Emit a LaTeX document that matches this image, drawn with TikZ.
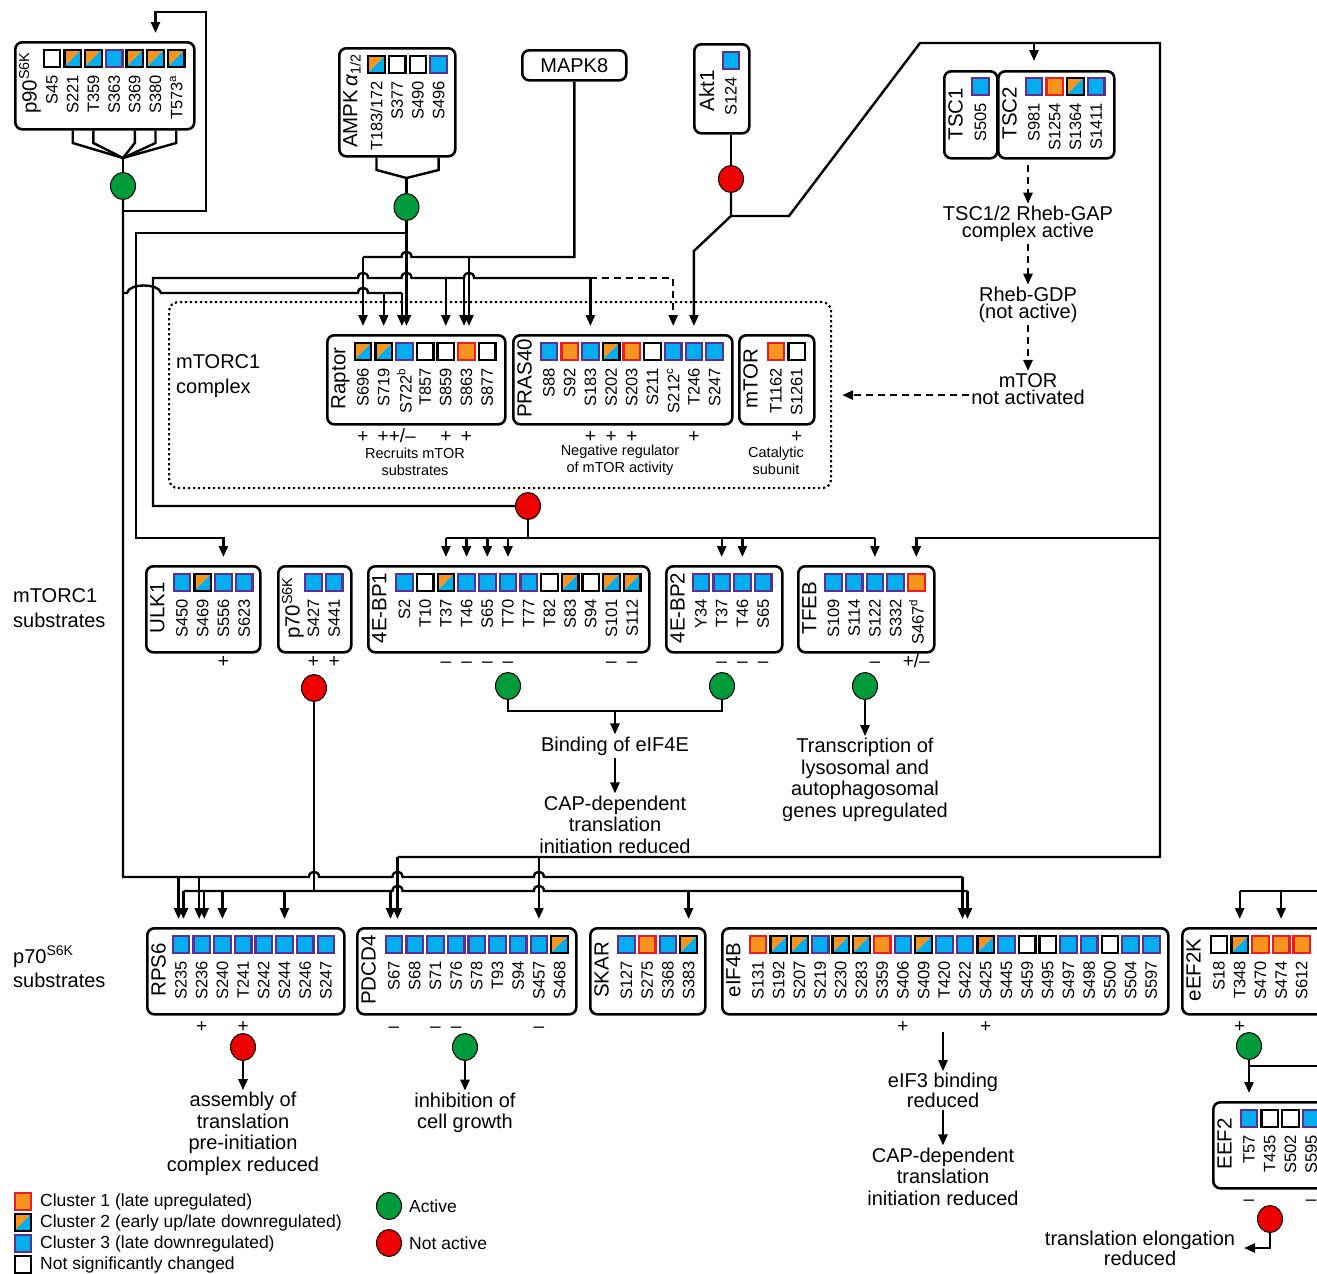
\documentclass[tikz,border=0pt]{standalone}
\usepackage{fontspec}
\setmainfont{Liberation Sans}
\usetikzlibrary{shapes.geometric,arrows.meta,calc}
\definecolor{corange}{RGB}{247,148,29}
\definecolor{cblue}{RGB}{0,174,239}
\definecolor{cpurple}{RGB}{96,45,145}
\definecolor{cred}{RGB}{237,28,36}
\definecolor{cgreen}{RGB}{0,155,58}
\definecolor{credc}{RGB}{236,0,0}
\newcommand{\Fsite}{\fontsize{16.5}{16.5}\selectfont}
\newcommand{\Fname}{\fontsize{20.5}{20.5}\selectfont}
\newcommand{\Flab}{\fontsize{20}{21.5}\selectfont}
\newcommand{\Ftight}{\fontsize{20}{17.5}\selectfont}
\newcommand{\Fleft}{\fontsize{20}{24.5}\selectfont}
\newcommand{\Fsmall}{\fontsize{14.5}{17}\selectfont}
\newcommand{\Fsign}{\fontsize{19}{19}\selectfont}
\newcommand{\Fleg}{\fontsize{17.5}{17.5}\selectfont}
\tikzset{
 conn/.style={draw=black, line width=2.4pt},
 arr/.style={conn, -{Triangle[length=11pt,width=9pt]}},
 darr/.style={arr, dash pattern=on 7pt off 5pt},
 pbox/.style={draw=black, line width=2.6pt, rounded corners=7pt, anchor=north west, inner sep=0pt},
 cplxbox/.style={draw=black, line width=2.2pt, dash pattern=on 2.2pt off 2.8pt, rounded corners=9pt, anchor=north west, inner sep=0pt},
 pname/.style={rotate=90, anchor=north, inner sep=0pt, font=\Fname},
 site/.style={rotate=90, anchor=east, inner sep=0pt, font=\Fsite},
 sqline/.style={line width=2.2pt},
 gcirc/.style={ellipse, draw=black, line width=1pt, fill=cgreen, minimum width=25pt, minimum height=27pt, inner sep=0pt},
 rcirc/.style={gcirc, fill=credc},
 lab/.style={font=\Flab, align=center, inner sep=2pt},
 tight/.style={font=\Ftight, align=center, inner sep=2pt},
 small/.style={font=\Fsmall, align=center, inner sep=0pt},
 sign/.style={font=\Fsign, inner sep=0pt, anchor=base},
 legtext/.style={font=\Fleg, anchor=west, inner sep=0pt},
 hop/.style 2 args={insert path={-- ({#1-5},#2) .. controls +(0,-7) and +(0,-7) .. ({#1+5},#2)}},
}
\newcommand{\sqr}[3]{%
 \ifcase#1\relax
  \draw[sqline, fill=white, draw=black] ({#2-8.3},#3) rectangle ++(16.6,16.6);
 \or
  \draw[sqline, fill=corange, draw=cred] ({#2-8.3},#3) rectangle ++(16.6,16.6);
 \or
  \fill[corange] ({#2-8.3},#3) -- ++(16.6,0) -- ++(-16.6,16.6) -- cycle;
  \fill[cblue] ({#2+8.3},#3) -- ++(0,16.6) -- ++(-16.6,0) -- cycle;
  \draw[sqline, draw=black] ({#2-8.3},#3) rectangle ++(16.6,16.6);
 \or
  \draw[sqline, fill=cblue, draw=cpurple] ({#2-8.3},#3) rectangle ++(16.6,16.6);
 \fi}
\newcommand{\sites}[4]{%
 \foreach \ty/\lb [count=\k] in {#4}{%
  \pgfmathsetmacro\sxc{#2+(\k-1)*20.7}
  \sqr{\ty}{\sxc}{#3}
  \node[site] (#1-l\k) at (\sxc,{#3+25}) {\lb};
  \coordinate (#1-\k) at (\sxc,{#3-17});
 }}
\begin{document}
\begin{tikzpicture}[x=1pt,y=-1pt]
\useasboundingbox (0,0) rectangle (1317,1274);
\fill[white] (0,0) rectangle (1317,1274);
\clip (0,0) rectangle (1317,1274);

% ---------------- top row ----------------
\node[pbox, minimum width=179pt, minimum height=87pt] (p90) at (14,41) {};
\node[pname] (p90-n) at (19,83) {p90\textsuperscript{S6K}};
\sites{p90}{52}{50}{0/S45,2/S221,2/T359,3/S363,2/S369,2/S380,2/T573\textsuperscript{a}}

\node[pbox, minimum width=116pt, minimum height=108pt] (ampk) at (338,47) {};
\node[pname] (ampk-n) at (343,101) {AMPK\,{\itshape α}\textsubscript{1/2}};
\sites{ampk}{376.5}{56}{2/{T183/172},0/S377,0/S490,3/S496}

\node[pbox, minimum width=104pt, minimum height=30pt, font=\fontsize{20}{20}\selectfont] (mapk) at (521,49) {MAPK8};

\node[pbox, minimum width=55pt, minimum height=89pt] (akt) at (693,43) {};
\node[pname] (akt-n) at (699,91) {Akt1};
\sites{akt}{731}{52}{3/S124}

\node[pbox, minimum width=53pt, minimum height=87pt] (tsc1) at (943,70) {};
\node[pname] (tsc1-n) at (948,114) {TSC1};
\sites{tsc1}{980.5}{78}{3/S505}
\node[pbox, minimum width=116pt, minimum height=87pt] (tsc2) at (997,70) {};
\node[pname] (tsc2-n) at (1002,113) {TSC2};
\sites{tsc2}{1034}{78}{3/S981,1/S1254,2/S1364,3/S1411}

\node[tight] (gap) at (1028,224) {TSC1/2 Rheb-GAP\\complex active};
\node[tight] (rheb) at (1028,305) {Rheb-GDP\\(not active)};
\node[tight] (mtorna) at (1028,389) {mTOR\\not activated};

% ---------------- mTORC1 complex ----------------
\node[cplxbox, minimum width=662pt, minimum height=186pt] (cplx) at (168,301) {};
\node[font=\Fleft, anchor=west, align=left, inner sep=0pt] (cplx-t) at (176,376) {mTORC1\\complex};

\node[pbox, minimum width=178pt, minimum height=89pt] (rap) at (326,334) {};
\node[pname] (rap-n) at (331,378.5) {Raptor};
\sites{rap}{363}{343}{2/S696,2/S719,3/S722\textsuperscript{b},0/T857,0/S859,1/S863,0/S877}

\node[pbox, minimum width=219pt, minimum height=89pt] (pras) at (512,334) {};
\node[pname] (pras-n) at (517,378.5) {PRAS40};
\sites{pras}{549}{343}{3/S88,1/S92,3/S183,2/S202,1/S203,0/S211,3/S212\textsuperscript{c},3/T246,3/S247}

\node[pbox, minimum width=75pt, minimum height=89pt] (mtor) at (738,334) {};
\node[pname] (mtor-n) at (743,378.5) {mTOR};
\sites{mtor}{776}{343}{1/T1162,0/S1261}

\node[small] (rap-d) at (415,462) {Recruits mTOR\\substrates};
\node[small] (pras-d) at (620,460.5) {Negative regulator\\of mTOR activity};
\node[small] (mtor-d) at (776,460.5) {Catalytic\\subunit};

\node[sign, anchor=base west] (sgR) at (377.5,442) {++/–};
\foreach \sx/\ss [count=\k] in {363/+,445.8/+,466.5/+,590.4/+,611.1/+,631.8/+,693.9/+,796.7/+}
  \node[sign] (sgA\k) at (\sx,442) {\ss};

% ---------------- mTORC1 substrates ----------------
\node[font=\Fleft, anchor=west, align=left, inner sep=0pt] (lsub1) at (13,608) {mTORC1\\substrates};

\node[pbox, minimum width=114pt, minimum height=86pt] (ulk) at (145,565) {};
\node[pname] (ulk-n) at (150,608) {ULK1};
\sites{ulk}{182}{574}{3/S450,2/S469,3/S556,3/S623}

\node[pbox, minimum width=73pt, minimum height=86pt] (p70) at (277,565) {};
\node[pname] (p70-n) at (282,608) {p70\textsuperscript{S6K}};
\sites{p70}{313.5}{574}{3/S427,3/S441}

\node[pbox, minimum width=281pt, minimum height=86pt] (ebp1) at (367,565) {};
\node[pname] (ebp1-n) at (372,608) {4E-BP1};
\sites{ebp1}{404.5}{574}{3/S2,0/T10,2/T37,3/T46,3/S65,3/T70,3/T77,0/T82,2/S83,0/S94,2/S101,2/S112}

\node[pbox, minimum width=116pt, minimum height=86pt] (ebp2) at (665,565) {};
\node[pname] (ebp2-n) at (670,608) {4E-BP2};
\sites{ebp2}{701}{574}{3/Y34,3/T37,3/T46,3/S65}

\node[pbox, minimum width=136pt, minimum height=86pt] (tfeb) at (797,565) {};
\node[pname] (tfeb-n) at (802,608) {TFEB};
\sites{tfeb}{833.5}{574}{3/S109,3/S114,3/S122,3/S332,1/S467\textsuperscript{d}}

\foreach \sx/\ss [count=\k] in {223.4/+,313.5/+,334.2/+,445.9/–,466.6/–,487.3/–,508/–,611.5/–,632.2/–,721.7/–,742.4/–,763.1/–,874.9/–,916.3/{+/–}}
  \node[sign] (sgB\k) at (\sx,667) {\ss};

% ---------------- circles ----------------
\node[gcirc] (c-p90) at (123,186) {};
\node[gcirc] (c-ampk) at (406.5,207) {};
\node[rcirc] (c-akt) at (731,179) {};
\node[rcirc] (c-mtorc) at (528,506) {};
\node[rcirc] (c-p70) at (314,688) {};
\node[gcirc] (c-ebp1) at (508,686) {};
\node[gcirc] (c-ebp2) at (722,686) {};
\node[gcirc] (c-tfeb) at (865,686) {};
\node[rcirc] (c-rps) at (243,1047) {};
\node[gcirc] (c-pdcd) at (465,1047) {};
\node[gcirc] (c-eef2k) at (1249,1046) {};
\node[rcirc] (c-eef2) at (1270,1219) {};

% ---------------- outcome texts ----------------
\node[lab] (bind) at (615,746) {Binding of eIF4E};
\node[lab] (cap1) at (615,824.5) {CAP-dependent\\translation\\initiation reduced};
\node[lab] (trans) at (865,780) {Transcription of\\lysosomal and\\autophagosomal\\genes upregulated};

% ---------------- p70 substrates ----------------
\node[font=\Fleft, anchor=west, align=left, inner sep=0pt] (lsub2) at (13,967) {p70\textsuperscript{S6K}\\substrates};

\node[pbox, minimum width=197pt, minimum height=86pt] (rps) at (146,927) {};
\node[pname] (rps-n) at (151,970) {RPS6};
\sites{rps}{181}{936}{3/S235,3/S236,3/S240,3/T241,3/S242,3/S244,3/S246,3/S247}

\node[pbox, minimum width=219pt, minimum height=86pt] (pdcd) at (356,927) {};
\node[pname] (pdcd-n) at (361,970) {PDCD4};
\sites{pdcd}{394}{936}{3/S67,3/S68,3/S71,3/S76,3/S78,3/T93,3/S94,3/S457,2/S468}

\node[pbox, minimum width=115pt, minimum height=86pt] (skar) at (589,927) {};
\node[pname] (skar-n) at (594,970) {SKAR};
\sites{skar}{626.5}{936}{3/S127,1/S275,3/S368,2/S383}

\node[pbox, minimum width=446pt, minimum height=86pt] (eif) at (721,927) {};
\node[pname] (eif-n) at (726,970) {eIF4B};
\sites{eif}{758}{936}{1/S131,2/S192,2/S207,3/S219,2/S230,2/S283,1/S359,3/S406,2/S409,3/T420,3/S422,2/S425,3/S445,0/S459,0/S495,3/S497,3/S498,0/S500,3/S504,3/S597}

\node[pbox, minimum width=149pt, minimum height=86pt] (eef2k) at (1181,927) {};
\node[pname] (eef2k-n) at (1186,970) {eEF2K};
\sites{eef2k}{1219}{936}{0/S18,2/T348,1/S470,1/S474,1/S612}

\node[pbox, minimum width=130pt, minimum height=86pt] (eef2) at (1212,1101) {};
\node[pname] (eef2-n) at (1217,1144) {EEF2};
\sites{eef2}{1249}{1110}{3/T57,0/T435,0/S502,3/S595}

\foreach \sx/\ss [count=\k] in {201.7/+,243.1/+,394/–,435.4/–,456.1/–,538.9/–,902.9/+,985.7/+,1239.7/+}
  \node[sign] (sgC\k) at (\sx,1032) {\ss};
\foreach \sx/\ss [count=\k] in {1249/–,1311.1/–}
  \node[sign] (sgD\k) at (\sx,1205) {\ss};

\node[lab] (asm) at (243,1134) {assembly of\\translation\\pre-initiation\\complex reduced};
\node[lab] (inh) at (465,1113) {inhibition of\\cell growth};
\node[tight] (eif3) at (943,1090.5) {eIF3 binding\\reduced};
\node[lab] (cap2) at (943,1176.5) {CAP-dependent\\translation\\initiation reduced};
\node[tight] (tel) at (1140,1248.5) {translation elongation\\reduced};

% ---------------- legend ----------------
\sqr{1}{23}{1193}
\sqr{2}{23}{1214}
\sqr{3}{23}{1235}
\sqr{0}{23}{1256}
\node[legtext] (lg1) at (40,1202) {Cluster 1 (late upregulated)};
\node[legtext] (lg2) at (40,1223) {Cluster 2 (early up/late downregulated)};
\node[legtext] (lg3) at (40,1244) {Cluster 3 (late downregulated)};
\node[legtext] (lg4) at (40,1265) {Not significantly changed};
\node[gcirc] (leg-g) at (389,1206) {};
\node[rcirc] (leg-r) at (389,1243) {};
\node[legtext] (lga) at (409,1206) {Active};
\node[legtext] (lgn) at (409,1243) {Not active};

% ---------------- offset targets ----------------
\coordinate (rap-3L) at ($(rap-3)+(-2.5,0)$);
\coordinate (rap-6L) at ($(rap-6)+(-2.5,0)$);
\coordinate (rap-6R) at ($(rap-6)+(2.5,0)$);
\coordinate (rps-1L) at ($(rps-1)+(-2.5,0)$);
\coordinate (rps-1R) at ($(rps-1)+(2.5,0)$);
\coordinate (rps-2L) at ($(rps-2)+(-2.5,0)$);
\coordinate (rps-2R) at ($(rps-2)+(2.5,0)$);
\coordinate (pdcd-1L) at ($(pdcd-1)+(-3.5,0)$);
\coordinate (pdcd-1R) at ($(pdcd-1)+(3.5,0)$);
\coordinate (eif-11L) at ($(eif-11)+(-2.5,0)$);
\coordinate (eif-11R) at ($(eif-11)+(2.5,0)$);

% ---------------- p90 ----------------
\foreach \k in {2,3,5,6,7}
  \draw[conn] (p90-\k |- p90.south) -- (p90-\k |- 0,143) -- (c-p90 |- 0,158);
\draw[conn] (c-p90 |- 0,158) -- (c-p90.north);
\draw[arr] (c-p90.south) |- (206,211) |- (p90-6 |- 0,12) -- (p90-6);
\draw[conn] (c-p90.south) -- (c-p90 |- 0,877) [hop={314}{877}] [hop={397.5}{877}] [hop={538.9}{877}] -- (eif-11L |- 0,877);
\draw[arr] (rps-1L |- 0,877) -- (rps-1L);
\draw[arr] (rps-2L |- 0,877) -- (rps-2L);
\draw[arr] (eif-11L |- 0,877) -- (eif-11L);
% p90 -> Raptor
\draw[conn] (c-p90 |- 0,293) -- (127,293) .. controls (129,283) and (159,283) .. (161,293) [hop={363}{293}] -- (rap-3L |- 0,293);
\draw[arr] (rap-2 |- 0,293) -- (rap-2);
\draw[arr] (rap-3L |- 0,293) -- (rap-3L);

% ---------------- AMPK ----------------
\draw[conn] (ampk-1 |- ampk.south) -- (ampk-1 |- 0,170) -- (c-ampk |- 0,178) -- (ampk-4 |- 0,170) -- (ampk-4 |- ampk.south);
\draw[conn] (c-ampk |- 0,178) -- (c-ampk.north);
\draw[arr] (c-ampk.south) -- (c-ampk |- rap-3);
\draw[arr] (c-ampk |- 0,233) -| (136,538) -| (ulk-3);

% ---------------- MAPK8 ----------------
\draw[conn] (rap-1 |- 0,257) [hop={406.5}{257}] -- (mapk |- 0,257) -- (mapk.south);
\draw[arr] (rap-1 |- 0,257) -- (rap-1);
\draw[arr] (rap-6R |- 0,257) -- (rap-6R);

% ---------------- mTORC1 feedback ----------------
\draw[conn] (c-mtorc.west) -| (153,278) [hop={363}{278}] [hop={406.5}{278}] [hop={469}{278}] -- (pras-3 |- 0,278);
\draw[arr] (rap-5 |- 0,278) -- (rap-5);
\draw[arr] (rap-6L |- 0,278) -- (rap-6L);
\draw[arr] (pras-3 |- 0,278) -- (pras-3);
\draw[darr] (pras-3 |- 0,278) -| (pras-7);

% ---------------- Akt ----------------
\draw[conn] (c-akt |- akt.south) -- (c-akt.north);
\draw[conn] (c-akt.south) -- (c-akt |- 0,216) -- (789,216) -- (920,43) -- (1160,43) -- (1160,857) -- (pdcd-1R |- 0,857);
\draw[arr] (c-akt |- 0,216) -- (pras-8 |- 0,251) -- (pras-8);
\draw[arr] (tsc2-1 |- 0,43) -- (tsc2-1);
\draw[arr] (1160,538) -| (tfeb-5);
\draw[arr] (pdcd-1R |- 0,857) -- (pdcd-1R);
\draw[arr] (pdcd-8 |- 0,857) -- (pdcd-8);

% ---------------- TSC cascade ----------------
\draw[darr] (gap.north |- 0,165) -- (gap.north);
\draw[darr] (gap.south) -- (rheb.north);
\draw[darr] (rheb.south) -- (mtorna.north);
\draw[darr] (mtorna.west |- cplx.east) -- ([xshift=10pt]cplx.east);

% ---------------- mTORC1 -> substrates ----------------
\draw[conn] (c-mtorc.south) -- (c-mtorc |- 0,538);
\draw[conn] (ebp1-3 |- 0,538) -- (tfeb-3 |- 0,538);
\foreach \tg in {ebp1-3,ebp1-4,ebp1-5,ebp1-6,ebp2-2,ebp2-3,tfeb-3}
  \draw[arr] (\tg |- 0,538) -- (\tg);

% ---------------- outcomes ----------------
\draw[conn] (c-ebp1.south) |- (c-ebp2 |- 0,711) -- (c-ebp2.south);
\draw[arr] (bind.north |- 0,711) -- (bind.north);
\draw[arr] (bind.south) -- (cap1.north);
\draw[arr] (c-tfeb.south) -- (trans.north);

% ---------------- p70 ----------------
\draw[conn] (c-p70.south) -- (c-p70 |- 0,891);
\draw[conn] (rps-1R |- 0,891) [hop={397.5}{891}] [hop={538.9}{891}] -- (eif-11R |- 0,891);
\foreach \tg in {rps-1R,rps-2R,rps-3,rps-6,pdcd-1L,skar-4,eif-11R}
  \draw[arr] (\tg |- 0,891) -- (\tg);

% ---------------- eEF2K / EEF2 ----------------
\draw[conn] (eef2k-2 |- 0,891) -- (1330,891);
\draw[arr] (eef2k-2 |- 0,891) -- (eef2k-2);
\draw[arr] (eef2k-4 |- 0,891) -- (eef2k-4);
\draw[arr] (c-eef2k.south) -- (eef2-1);
\draw[conn] (c-eef2k |- 0,1066) -- (1330,1066);
\draw[arr] (c-eef2.south) |- (1244,1248);

% ---------------- bottom outcomes ----------------
\draw[arr] (c-rps.south) -- (asm.north);
\draw[arr] (c-pdcd.south) -- (inh.north);
\draw[arr] (eif3.north |- 0,1032) -- (eif3.north);
\draw[arr] (eif3.south) -- (cap2.north);
\end{tikzpicture}
\end{document}
